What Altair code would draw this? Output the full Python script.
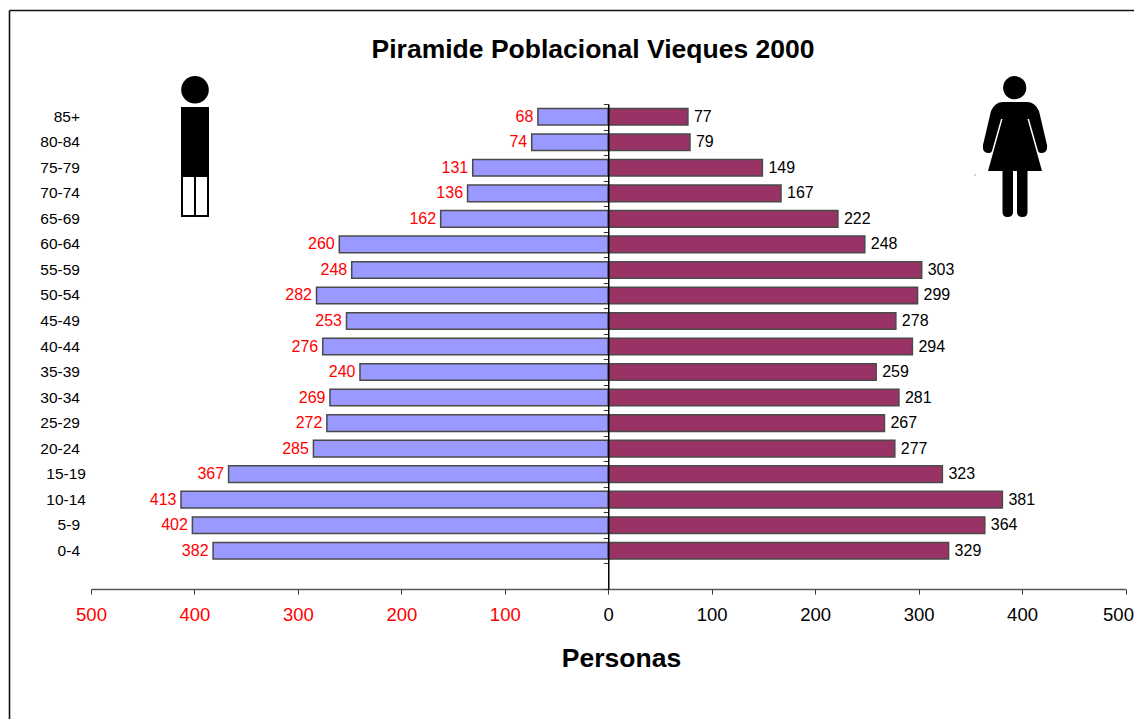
import altair as alt
import pandas as pd

ages = ["85+","80-84","75-79","70-74","65-69","60-64","55-59","50-54","45-49","40-44",
        "35-39","30-34","25-29","20-24","15-19","10-14","5-9","0-4"]
male = [68,74,131,136,162,260,248,282,253,276,240,269,272,285,367,413,402,382]
female = [77,79,149,167,222,248,303,299,278,294,259,281,267,277,323,381,364,329]
y_domain = ages + [" "]
x_ticks = [-500,-400,-300,-200,-100,0,100,200,300,400,500]
chart_title = "Piramide Poblacional Vieques 2000"

FONT = "Liberation Sans"
SVG_W, SVG_H = 1126, 711
X0, X1, Y0, Y1 = 91, 1125.5, 104, 589
W, H = X1 - X0, Y1 - Y0
PL, PT = X0 - 8, Y0 - 8

df = pd.DataFrame({
    "age": ages * 2,
    "valor": [-v for v in male] + female,
    "etiqueta": male + female,
    "sexo": ["Hombres"] * len(ages) + ["Mujeres"] * len(ages),
})
ymen = df[df.sexo == "Hombres"]
ywom = df[df.sexo == "Mujeres"]

yscale = alt.Scale(domain=y_domain, paddingInner=0.35, paddingOuter=0.175)
xscale = alt.Scale(domain=[-500, 500], nice=False, zero=False)

x_axis = alt.Axis(
    values=x_ticks, labelExpr="abs(datum.value)", grid=False, title="Personas",
    domainColor="#555555", tickColor="#333333", tickSize=5, domainWidth=1.5,
    labelFont=FONT, labelFontSize=18.5, labelPadding=11,
    labelColor=alt.condition("datum.value < 0", alt.value("#ff0000"), alt.value("#000000")),
    labelOffset=alt.condition("datum.value == 500", alt.value(-7.5), alt.value(0)),
    titleFont=FONT, titleFontSize=26.5, titleFontWeight="bold", titleColor="#000000",
    titleBaseline="alphabetic", titleAlign="center",
    titleX=621 - X0, titleY=77.5, labelFlush=False, labelOverlap=False,
)

bars = alt.Chart(df).mark_bar(stroke="#4a4a4a", strokeWidth=1.5).encode(
    x=alt.X("valor:Q", scale=xscale, axis=x_axis),
    y=alt.Y("age:N", scale=yscale, sort=y_domain, axis=alt.Axis(
        title=None, domain=False, ticks=False, labelFont=FONT, labelFontSize=15.5,
        labelColor="#000000", labelAlign="right",
        labelPadding=alt.condition("datum.value == '15-19' || datum.value == '10-14'",
                                   alt.value(5.5), alt.value(11.5)),
        labelBaseline="middle", grid=False, labelFlush=False, labelOverlap=False)),
    color=alt.Color("sexo:N", legend=None,
                    scale=alt.Scale(domain=["Hombres","Mujeres"], range=["#9999FF","#993366"])),
)

men_text = alt.Chart(ymen).mark_text(align="right", baseline="middle", dx=-4.5, font=FONT,
                                     fontSize=16, color="#ff0000").encode(
    x=alt.X("valor:Q", scale=xscale),
    y=alt.Y("age:N", scale=yscale, sort=y_domain, axis=None),
    text="etiqueta:Q",
)
wom_text = alt.Chart(ywom).mark_text(align="left", baseline="middle", dx=6, font=FONT,
                                     fontSize=16, color="#000000").encode(
    x=alt.X("valor:Q", scale=xscale),
    y=alt.Y("age:N", scale=yscale, sort=y_domain, axis=None),
    text="etiqueta:Q",
)

# vertical axis on the zero line, ticks at the edges of each category step
zero_axis = alt.Chart(pd.DataFrame({"age": ages, "z": [0] * len(ages)})).mark_point(opacity=0).encode(
    x=alt.X("z:Q", scale=xscale),
    y=alt.Y("age:N", scale=alt.Scale(domain=y_domain, padding=0), sort=y_domain,
            axis=alt.Axis(title=None, labels=False, offset=-W / 2, tickBand="extent",
                          tickSize=5, tickColor="#333333", domainColor="#000000",
                          domainWidth=1.5, grid=False, orient="left", zindex=1)),
)

def px(v): return alt.value(v - 8 - PL)
def py(v): return alt.value(v - 8 - PT)
one = pd.DataFrame({"a": [0]})

frame_top = alt.Chart(one).mark_rule(color="#111111", strokeWidth=1.6).encode(
    x=px(9.5), x2=px(1142), y=py(10.5))
frame_left = alt.Chart(one).mark_rule(color="#111111", strokeWidth=1.6).encode(
    x=px(9.5), y=py(10.5), y2=py(719))

title_text = alt.Chart(pd.DataFrame({"t": [chart_title]})).mark_text(
    font=FONT, fontSize=26.5, fontWeight="bold", color="#000000",
    align="center", baseline="alphabetic").encode(
    x=px(593), y=py(58), text="t:N")

ICON = 4
man_body = alt.Chart(one).mark_point(
    shape="M-14,-1 L14,-1 L14,68 L-14,68 Z", size=ICON, filled=True, fill="#000000", opacity=1).encode(
    x=px(195), y=py(108))
man_head = alt.Chart(one).mark_point(
    shape="circle", size=762, filled=True, fill="#000000", opacity=1).encode(
    x=px(195), y=py(89.7))
man_legs = alt.Chart(one).mark_point(
    shape="M-13,0 L0,0 L0,40 L-13,40 Z M0,0 L13,0 L13,40 L0,40 Z",
    size=ICON, filled=True, fill="#ffffff", stroke="#000000", strokeWidth=2, opacity=1).encode(
    x=px(195), y=py(176))

WOMAN = ("M-12,-42 L12,-42 Q20,-42 24,-33 L32,1 Q33,9 26,9 Q23,9 22.5,5 L14,-25 L12.5,-25 "
         "L27,27 L12.5,27 L12.5,68 Q12.5,73 7.5,73 Q2,73 2,68 L2,27 L-2,27 L-2,68 "
         "Q-2,73 -7.5,73 Q-12.5,73 -12.5,68 L-12.5,27 L-27,27 L-12.5,-25 L-14,-25 L-22.5,5 "
         "Q-23,9 -26,9 Q-33,9 -32,1 L-24,-33 Q-20,-42 -12,-42 Z")
woman_body = alt.Chart(one).mark_point(
    shape=WOMAN, size=ICON, filled=True, fill="#000000", opacity=1).encode(
    x=px(1015), y=py(144))
woman_head = alt.Chart(one).mark_point(
    shape="circle", size=538, filled=True, fill="#000000", opacity=1).encode(
    x=px(1014.7), y=py(87.7))
speck = alt.Chart(one).mark_point(
    shape="square", size=1, filled=True, fill="#555555", opacity=1).encode(
    x=px(975), y=py(175))

chart = alt.layer(
    frame_top, frame_left, bars, men_text, wom_text, zero_axis, title_text,
    man_head, man_body, man_legs, woman_head, woman_body, speck,
).resolve_scale(y="independent").properties(
    width=W, height=H,
    padding={"left": PL, "top": PT, "right": SVG_W - PL - W, "bottom": SVG_H - PT - H},
    autosize=alt.AutoSizeParams(type="none"),
    background="#ffffff",
).configure_view(stroke=None)

chart.save("out.html", embed_options={"renderer": "svg", "actions": False})
